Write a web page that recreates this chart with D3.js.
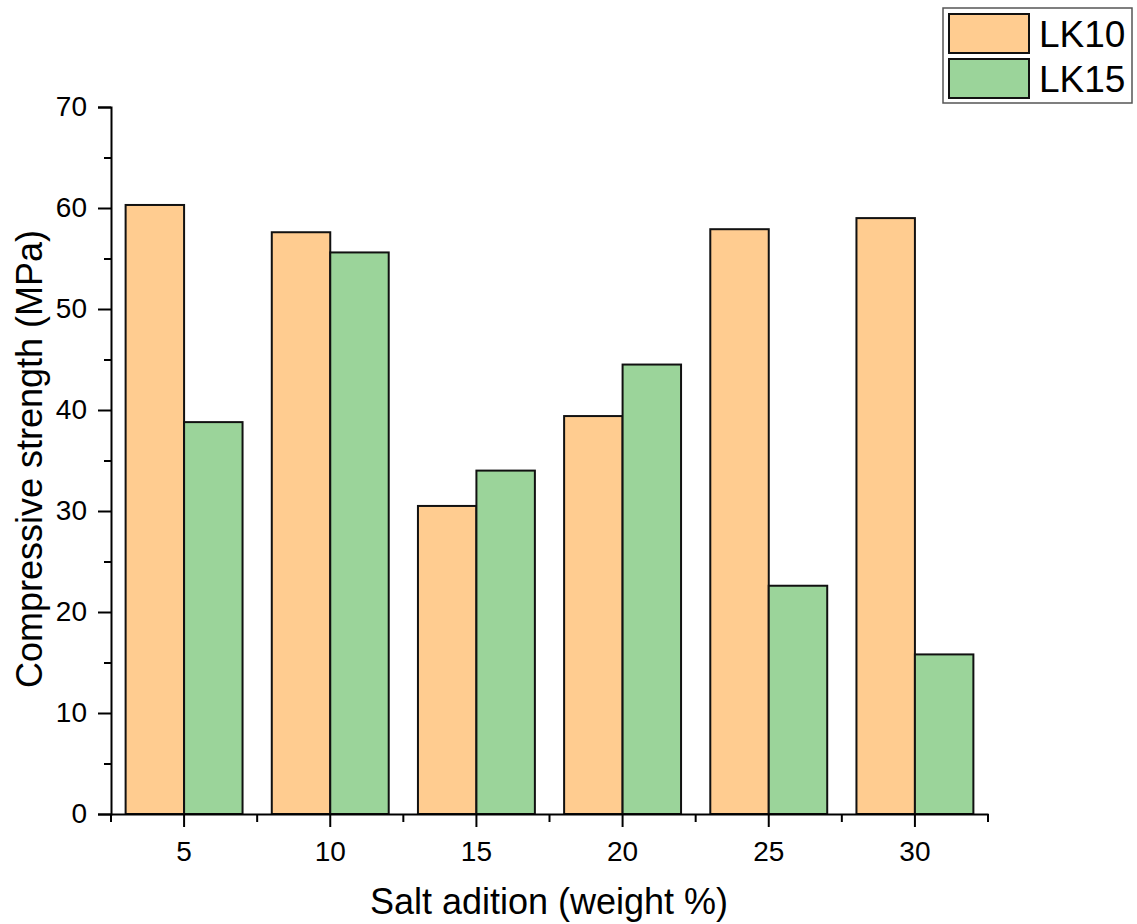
<!DOCTYPE html>
<html>
<head>
<meta charset="utf-8">
<style>
  body { margin: 0; background: #fff; }
  text { font-family: "Liberation Sans", Arial, sans-serif; fill: #000; }
</style>
</head>
<body>
<svg width="1137" height="924"></svg>
<script src="https://d3js.org/d3.v7.min.js"></script>
<script>
// data
var categories = ["5", "10", "15", "20", "25", "30"];
var seriesNames = ["LK10", "LK15"];
var lk10 = [60.3, 57.6, 30.5, 39.4, 57.9, 59.0];
var lk15 = [38.8, 55.6, 34.0, 44.5, 22.6, 15.8];
var yTicks = [0, 10, 20, 30, 40, 50, 60, 70];
var colors = ["#FFCC90", "#9BD49A"];

var svg = d3.select("svg"),
    margin = {top: 107, right: 149, bottom: 110, left: 111},
    width = 1137 - margin.left - margin.right,
    height = 924 - margin.top - margin.bottom;

var g = svg.append("g")
    .attr("transform", "translate(" + margin.left + "," + margin.top + ")");

var x = d3.scaleBand().domain(categories).range([0, width]).padding(0);
var inner = d3.scaleBand().domain(seriesNames)
    .range([x.bandwidth() * 0.1, x.bandwidth() * 0.9]).padding(0);
var y = d3.scaleLinear().domain([0, 70]).range([height, 0]);

var rows = categories.map(function(c, i) {
  return {cat: c, vals: [{s: "LK10", v: lk10[i], k: 0}, {s: "LK15", v: lk15[i], k: 1}]};
});

// bars
g.selectAll(".grp")
  .data(rows)
  .enter().append("g")
    .attr("transform", function(d) { return "translate(" + x(d.cat) + ",0)"; })
  .selectAll("rect")
  .data(function(d) { return d.vals; })
  .enter().append("rect")
    .attr("x", function(d) { return inner(d.s); })
    .attr("y", function(d) { return y(d.v); })
    .attr("width", inner.bandwidth())
    .attr("height", function(d) { return height - y(d.v); })
    .attr("fill", function(d) { return colors[d.k]; })
    .attr("stroke", "#111")
    .attr("stroke-width", 2);

// y axis
var yAxis = g.append("g")
    .call(d3.axisLeft(y).tickValues(yTicks).tickSize(13).tickPadding(11));
yAxis.selectAll(".tick text").style("font-size", "28px");
g.append("g")
    .call(d3.axisLeft(y).tickValues(d3.range(5, 70, 10)).tickSize(7).tickFormat(""))
    .select(".domain").remove();

// x axis
var xAxis = g.append("g")
    .attr("transform", "translate(0," + height + ")")
    .call(d3.axisBottom(x).tickSize(13).tickSizeOuter(0).tickPadding(14));
xAxis.selectAll(".tick text").style("font-size", "28px");
var edges = d3.range(0, categories.length + 1).map(function(i) { return i * x.step(); });
g.append("g")
    .attr("transform", "translate(0," + height + ")")
    .selectAll("line")
    .data(edges)
    .enter().append("line")
      .attr("x1", function(d) { return d; })
      .attr("x2", function(d) { return d; })
      .attr("y1", 0).attr("y2", 8)
      .attr("stroke", "#000").attr("stroke-width", 2);

g.selectAll(".domain, .tick line").attr("stroke", "#000").attr("stroke-width", 2);

// axis titles
svg.append("text")
    .attr("x", 549)
    .attr("y", 914)
    .attr("text-anchor", "middle")
    .style("font-size", "36px")
    .text("Salt adition (weight %)");

svg.append("text")
    .attr("transform", "translate(42,459) rotate(-90)")
    .attr("text-anchor", "middle")
    .style("font-size", "36px")
    .text("Compressive strength (MPa)");

// legend
var legend = svg.append("g").attr("transform", "translate(943,8)");
legend.append("rect")
    .attr("width", 189).attr("height", 95)
    .attr("fill", "#fff").attr("stroke", "#555").attr("stroke-width", 1.5);
seriesNames.forEach(function(name, i) {
  legend.append("rect")
      .attr("x", 6).attr("y", 6 + i * 45)
      .attr("width", 80).attr("height", 39)
      .attr("fill", colors[i]).attr("stroke", "#111").attr("stroke-width", 2);
  legend.append("text")
      .attr("x", 96).attr("y", 39 + i * 45)
      .style("font-size", "37px")
      .text(name);
});
</script>
</body>
</html>
